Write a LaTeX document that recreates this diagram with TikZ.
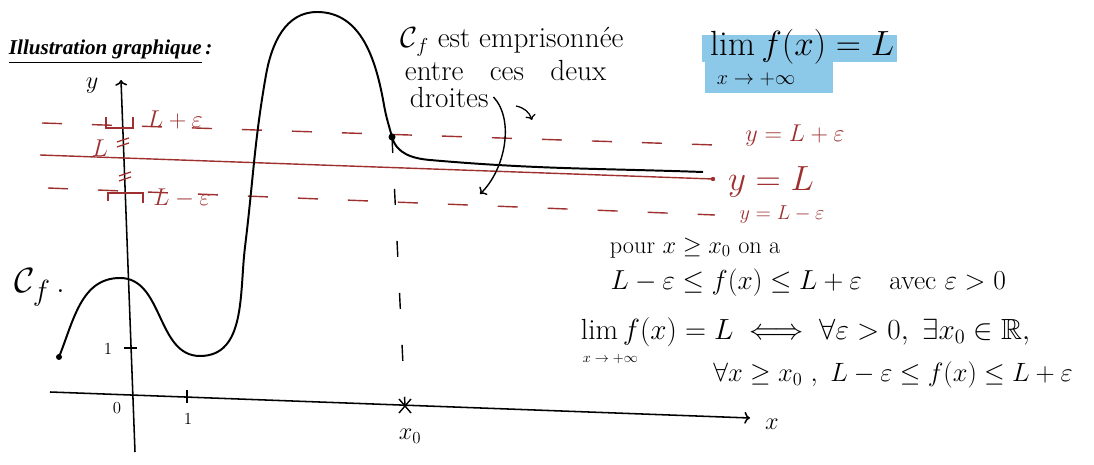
\documentclass[tikz,border=0pt]{standalone}
\usepackage{amsmath,amssymb}
\usepackage{fontspec}
\newfontfamily\titlefont{Liberation Serif}
\usetikzlibrary{arrows.meta,positioning,calc}
\definecolor{lred}{RGB}{158,48,48}
\definecolor{hlblue}{RGB}{140,200,232}

\begin{document}
\begin{tikzpicture}[x=0.025cm, y=-0.025cm, font=\LARGE]
    \useasboundingbox (0,0) rectangle (1094,465);

    % Title
    \node[anchor=west, font=\titlefont\fontsize{15}{18}\selectfont\bfseries\itshape] (titre) at (4,52) {\underline{Illustration graphique}\,:};

    % Axes
    \coordinate (xa) at (50,392);
    \coordinate (xb) at (750,418);
    \coordinate (ya) at (135,452);
    \coordinate (yb) at (121,80);
    \draw[line width=1.1pt, ->] (xa) -- (xb);
    \draw[line width=1.1pt, ->] (ya) -- (yb);
    \node (xlab) at (772,424) {$x$};
    \node (ylab) at (92,86) {$y$};
    \node[font=\large] (zero) at (117,408) {$0$};
    \draw[line width=1pt] (187,390) -- (187,403);
    \node[font=\large] (unx) at (188,419) {$1$};
    \draw[line width=1pt] (124,348) -- (137,348);
    \node[font=\large] (uny) at (108,349) {$1$};

    % Horizontal lines y=L, y=L+e, y=L-e
    \draw[lred, line width=1pt] (40,155) -- (713,179);
    \fill[lred] (713,179) circle (2.2);
    \draw[lred, line width=1pt, dash pattern=on 0.5cm off 0.75cm] (42,123) -- (715,145);
    \draw[lred, line width=1pt, dash pattern=on 0.5cm off 0.75cm] (48,188) -- (715,215);
    \node[lred] (Lpe) at (175,120) {$L+\varepsilon$};
    \node[lred] (Lme) at (182,198) {$L-\varepsilon$};
    \node[lred] (Lg) at (100,148) {$L$};
    \node[lred] (dpe) at (795,136) {$y=L+\varepsilon$};
    \node[lred, font=\Huge] (dL) at (771,182) {$y=L$};
    \node[lred, font=\Large] (dme) at (782,215) {$y=L-\varepsilon$};
    \draw[lred, line width=1pt] (106,117) |- (133,128) -- (133,117);
    \draw[lred, line width=1pt] (108,201) |- (143,193) -- (143,203);
    \draw[lred, line width=0.9pt] (117,142) -- (129,138) (117,147) -- (129,143);
    \draw[lred, line width=0.9pt] (119,176) -- (131,172) (119,181) -- (131,177);

    % Curve
    \draw[line width=1.4pt] (59,357) to[out=68,in=180] (120,278) to[out=0,in=180] (200,356)
        to[out=0,in=-97] (245,247) to[out=83,in=-100] (266,75) to[out=80,in=180] (317,12)
        to[out=0,in=100] (384,105) to[out=-80,in=105] (392,137) to[out=-75,in=175] (430,160)
        to[out=-5,in=178] (703,172);
    \fill (59,357) circle (3);
    \coordinate (M) at (392,137);
    \fill (M) circle (3.5);
    \node[font=\Huge] (Cf) at (40,287) {$\mathcal{C}_f$\,.};

    % x0
    \coordinate (X0) at (405,406);
    \draw[line width=1pt, dash pattern=on 0.4cm off 0.9cm] (M) -- (X0);
    \draw[line width=1pt] (399,399) -- (411,413) (411,399) -- (399,413);
    \node (x0lab) at (410,436) {$x_0$};

    % Annotation
    \node[anchor=west, font=\huge] (ann1) at (396,42) {$\mathcal{C}_f$ est emprisonnée};
    \node[anchor=west, font=\huge] (ann2) at (400,70) {entre~~~ces~~~deux};
    \node[anchor=west, font=\huge] (ann3) at (405,97) {droites};
    \coordinate (flech) at (480,194);
    \draw[->, line width=1pt] (ann3.east) .. controls (515,120) and (505,170) .. (flech);
    \coordinate (s1) at (516,106);
    \coordinate (s2) at (532,120);
    \draw[->, line width=0.9pt] (s1) to[bend left] (s2);

    % Limit box
    \fill[hlblue] (702,35) rectangle (897,62);
    \fill[hlblue] (705,62) rectangle (833,93);
    \node[anchor=west, font=\Huge] (lim1) at (706,47) {$\lim f(x) = L$};
    \node[anchor=west, font=\Large] (lim1b) at (712,79) {$x\to+\infty$};

    % Definition
    \node[anchor=west] (t1) at (605,248) {pour $x\geq x_0$ on a};
    \node[anchor=west, scale=1.13, transform shape] (t2) at (605,283) {$L-\varepsilon\leq f(x)\leq L+\varepsilon$\quad avec $\varepsilon>0$};
    \node[anchor=west, font=\huge] (t3) at (576,332) {$\lim f(x)=L \iff \forall\varepsilon>0,\ \exists x_0\in\mathbb{R},$};
    \node[anchor=west, font=\normalsize] (t3b) at (578,359) {$x\to+\infty$};
    \node[anchor=west, scale=1.09, transform shape] (t4) at (708,375) {$\forall x\geq x_0\ ,\ L-\varepsilon\leq f(x)\leq L+\varepsilon$};
\end{tikzpicture}
\end{document}
